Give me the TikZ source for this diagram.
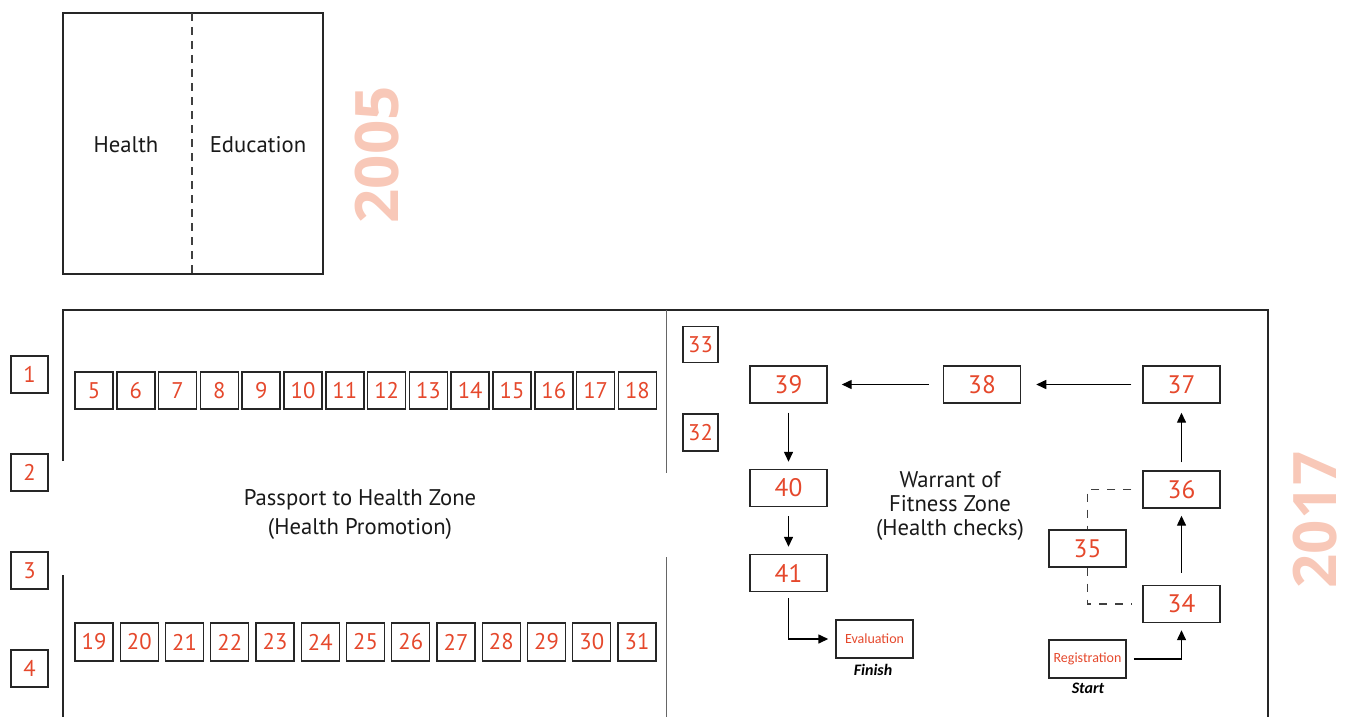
\documentclass[tikz,border=0pt]{standalone}
\usepackage{fontspec}
\setmainfont{PT Sans}
\newfontfamily\calfont{Carlito}
\newfontfamily\yearfont{Open Sans}
\usetikzlibrary{arrows.meta}
\newdimen\PX \PX=0.75pt
\definecolor{numred}{RGB}{229,72,44}
\definecolor{salmon}{RGB}{248,200,184}
\tikzset{
  px/.style={x=0.75pt,y=-0.75pt},
  numbox/.style={draw=black!85,line width=1.1pt,text=numred,inner sep=0pt,
    font=\fontsize{17}{20}\selectfont},
  smallbox/.style={numbox,minimum width=38\PX,minimum height=37\PX},
  bigbox/.style={numbox,minimum width=77\PX,minimum height=37\PX,
    font=\fontsize{19}{22}\selectfont},
  txtbox/.style={numbox,minimum width=77\PX,minimum height=38\PX,
    font=\calfont\fontsize{10.5}{12}\selectfont},
  lbl/.style={font=\fontsize{17}{21.75}\selectfont,align=center,text=black!90},
  year/.style={text=salmon,rotate=90,inner sep=0pt,font=\yearfont\bfseries\fontsize{45}{50}\selectfont},
  flow/.style={-{Triangle[length=7.5pt,width=6.75pt]},line width=1.1pt,black},
  dashcon/.style={line width=1pt,black!75,dash pattern=on 6pt off 6pt},
  wall/.style={line width=1.4pt,black!85},
  tag/.style={font=\calfont\bfseries\itshape\fontsize{12}{14}\selectfont}
}
\begin{document}
\begin{tikzpicture}[px]
\useasboundingbox (0,0) rectangle (1355,717);
% 2005 plan
\draw[wall] (63,13) rectangle (323,274);
\draw[line width=1pt,black!75,dash pattern=on 6pt off 4.5pt] (192,13) -- (192,274);
\node[lbl] (health) at (126,145) {Health};
\node[lbl] (educ) at (258,145) {Education};
\node[year] (y2005) at (377,155) {2005};
% 2017 plan walls
\draw[wall] (63,461) -- (63,310) -- (1268,310) -- (1268,717);
\draw[wall] (63,575) -- (63,717);
\draw[line width=0.7pt,black!60] (666,310) -- (666,473);
\draw[line width=0.7pt,black!60] (666,557) -- (666,717);
\node[year] (y2017) at (1315,520) {2017};
% left boxes
\foreach \n/\y in {1/374.5,2/472.5,3/570.5,4/668.5}
  \node[smallbox,minimum width=37\PX] (b\n) at (29.5,\y) {\n};
% top row
\foreach \n [count=\i from 0] in {5,...,18}
  \node[smallbox] (b\n) at ({94+41.8*\i},390.5) {\n};
% bottom row
\foreach \n [count=\i from 0] in {19,...,31}
  \node[smallbox,minimum height=38\PX] (b\n) at ({94+45.25*\i},642) {\n};
\node[lbl] (passport) at (360,514) {Passport to Health Zone\\(Health Promotion)};
% right zone
\node[smallbox,minimum width=35\PX,minimum height=36\PX] (b33) at (700.5,344.5) {33};
\node[smallbox,minimum width=35\PX] (b32) at (700.5,432.5) {32};
\node[bigbox] (b39) at (788.5,384.5) {39};
\node[bigbox] (b38) at (982,384.5) {38};
\node[bigbox] (b37) at (1181.5,384.5) {37};
\node[bigbox] (b40) at (788.5,488) {40};
\node[bigbox] (b41) at (788.5,573) {41};
\node[bigbox] (b36) at (1181.5,489.5) {36};
\node[bigbox] (b35) at (1087.5,548.5) {35};
\node[bigbox] (b34) at (1181.5,604) {34};
\node[txtbox] (reg) at (1087.5,659) {Registration};
\node[txtbox] (eval) at (874.5,639) {Evaluation};
\node[tag] (finish) at (873,670) {Finish};
\node[tag] (start) at (1088,688) {Start};
\node[lbl,font=\fontsize{17}{18}\selectfont] (warrant) at (950,506) {Warrant of\\Fitness Zone\\(Health checks)};
% arrows
\draw[flow,shorten <=8.25pt,shorten >=11.25pt] (b37.west) -- (b38.east);
\draw[flow,shorten <=10.5pt,shorten >=10.5pt] (b38.west) -- (b39.east);
\draw[flow,shorten <=6.75pt,shorten >=5.25pt] (b39.south) -- (b40.north);
\draw[flow,shorten <=6.75pt,shorten >=5.25pt] (b40.south) -- (b41.north);
\coordinate (c41) at (b41.south |- eval.west);
\draw[flow,shorten <=4.5pt,shorten >=5.25pt] (b41.south) -- (c41) -- (eval.west);
\coordinate (creg) at (b34.south |- reg.east);
\draw[flow,shorten <=5.25pt,shorten >=5.25pt] (reg.east) -- (creg) -- (b34.south);
\draw[flow,shorten <=9pt,shorten >=5.25pt] (b34.north) -- (b36.south);
\draw[flow,shorten <=6pt,shorten >=6.75pt] (b36.north) -- (b37.south);
% dashed link via 35
\coordinate (d36) at (b35.north |- b36.west);
\coordinate (d34) at (b35.south |- b34.west);
\draw[dashcon,shorten <=8.25pt] (b36.west) -- (d36) -- (b35.north);
\draw[dashcon,shorten >=8.25pt] (b35.south) -- (d34) -- (b34.west);
\end{tikzpicture}
\end{document}
